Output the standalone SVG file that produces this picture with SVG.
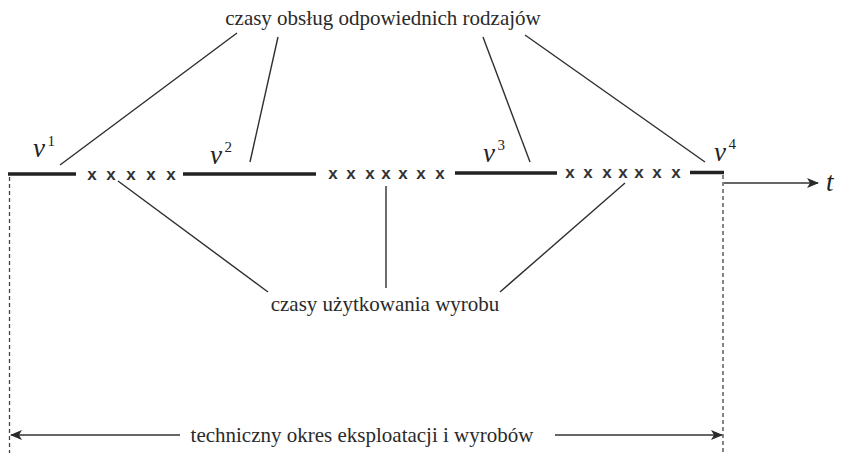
<svg xmlns="http://www.w3.org/2000/svg" width="841" height="453" viewBox="0 0 841 453">
  <style>
    .lbl { font-family: "Liberation Serif", "Times New Roman", serif; font-size: 21px; fill: #2a2a2a; }
    .nu { font-family: "Liberation Serif", "Times New Roman", serif; font-style: italic; font-size: 27px; fill: #222; }
    .sup { font-family: "Liberation Serif", "Times New Roman", serif; font-size: 15px; fill: #222; }
    .mark { font-family: "Liberation Sans", Arial, sans-serif; font-weight: bold; font-size: 17px; fill: #333; text-anchor: middle; }
    .lead { stroke: #2e2e2e; stroke-width: 1.4; fill: none; }
    .seg { stroke: #222; stroke-width: 3.5; fill: none; }
    .dash { stroke: #444; stroke-width: 1.3; stroke-dasharray: 4 3; fill: none; }
    .axis { stroke: #333; stroke-width: 1.3; fill: none; }
  </style>
  <defs>
    <marker id="arrow" viewBox="0 0 12 10" refX="11" refY="5" markerWidth="12" markerHeight="10" markerUnits="userSpaceOnUse" orient="auto-start-reverse">
      <path d="M0,0 L12,5 L0,10 L3,5 Z" fill="#2a2a2a"/>
    </marker>
  </defs>

  <rect width="841" height="453" fill="#fff"/>

  <!-- time axis: service intervals (thick) and usage intervals (x marks) -->
  <g id="timeline">
    <line class="seg" x1="8" y1="174" x2="76" y2="174"/>
    <line class="seg" x1="183" y1="174" x2="316" y2="174"/>
    <line class="seg" x1="455" y1="173" x2="557" y2="173"/>
    <line class="seg" x1="690" y1="172.5" x2="724" y2="172.5"/>
    <g id="usage1">
      <text class="mark" x="92" y="180">x</text>
      <text class="mark" x="111" y="180">x</text>
      <text class="mark" x="131" y="180">x</text>
      <text class="mark" x="151" y="180">x</text>
      <text class="mark" x="171" y="180">x</text>
    </g>
    <g id="usage2">
      <text class="mark" x="333" y="179">x</text>
      <text class="mark" x="351" y="179">x</text>
      <text class="mark" x="370" y="179">x</text>
      <text class="mark" x="386" y="179">x</text>
      <text class="mark" x="403" y="179">x</text>
      <text class="mark" x="421" y="179">x</text>
      <text class="mark" x="440" y="179">x</text>
    </g>
    <g id="usage3">
      <text class="mark" x="570" y="178">x</text>
      <text class="mark" x="588" y="178">x</text>
      <text class="mark" x="607" y="178">x</text>
      <text class="mark" x="623" y="178">x</text>
      <text class="mark" x="639" y="178">x</text>
      <text class="mark" x="657" y="178">x</text>
      <text class="mark" x="676" y="178">x</text>
    </g>
  </g>

  <!-- service labels -->
  <g id="nu1"><text class="nu" x="33" y="157">ν</text><text class="sup" x="47.5" y="146">1</text></g>
  <g id="nu2"><text class="nu" x="210" y="164">ν</text><text class="sup" x="224.5" y="152">2</text></g>
  <g id="nu3"><text class="nu" x="483" y="162">ν</text><text class="sup" x="497.5" y="150">3</text></g>
  <g id="nu4"><text class="nu" x="714" y="161">ν</text><text class="sup" x="728.5" y="149">4</text></g>

  <!-- captions -->
  <g id="service-caption"><text class="lbl" x="383" y="25" text-anchor="middle">czasy obsług odpowiednich rodzajów</text></g>
  <g id="usage-caption"><text class="lbl" x="385" y="311" text-anchor="middle">czasy użytkowania wyrobu</text></g>
  <g id="lifetime-caption"><text class="lbl" x="362" y="442" text-anchor="middle">techniczny okres eksploatacji i wyrobów</text></g>
  <g id="t-label"><text class="nu" x="826" y="191" font-size="21">t</text></g>

  <!-- connectors -->
  <g id="connectors">
    <line class="lead" x1="237" y1="33" x2="60" y2="165"/>
    <line class="lead" x1="278" y1="37" x2="250" y2="162"/>
    <line class="lead" x1="483" y1="37" x2="530" y2="162"/>
    <line class="lead" x1="525" y1="35" x2="705" y2="162"/>
    <line class="lead" x1="118" y1="181" x2="268" y2="292"/>
    <line class="lead" x1="386" y1="186" x2="386" y2="288"/>
    <line class="lead" x1="625" y1="183" x2="500" y2="292"/>
    <line class="dash" x1="9.5" y1="177" x2="9.5" y2="453"/>
    <line class="dash" x1="723" y1="175" x2="723" y2="453"/>
    <line class="axis" x1="724" y1="183" x2="818" y2="183" marker-end="url(#arrow)"/>
    <line class="axis" x1="11" y1="435" x2="180" y2="435" marker-start="url(#arrow)"/>
    <line class="axis" x1="555" y1="435" x2="722" y2="435" marker-end="url(#arrow)"/>
  </g>
</svg>
